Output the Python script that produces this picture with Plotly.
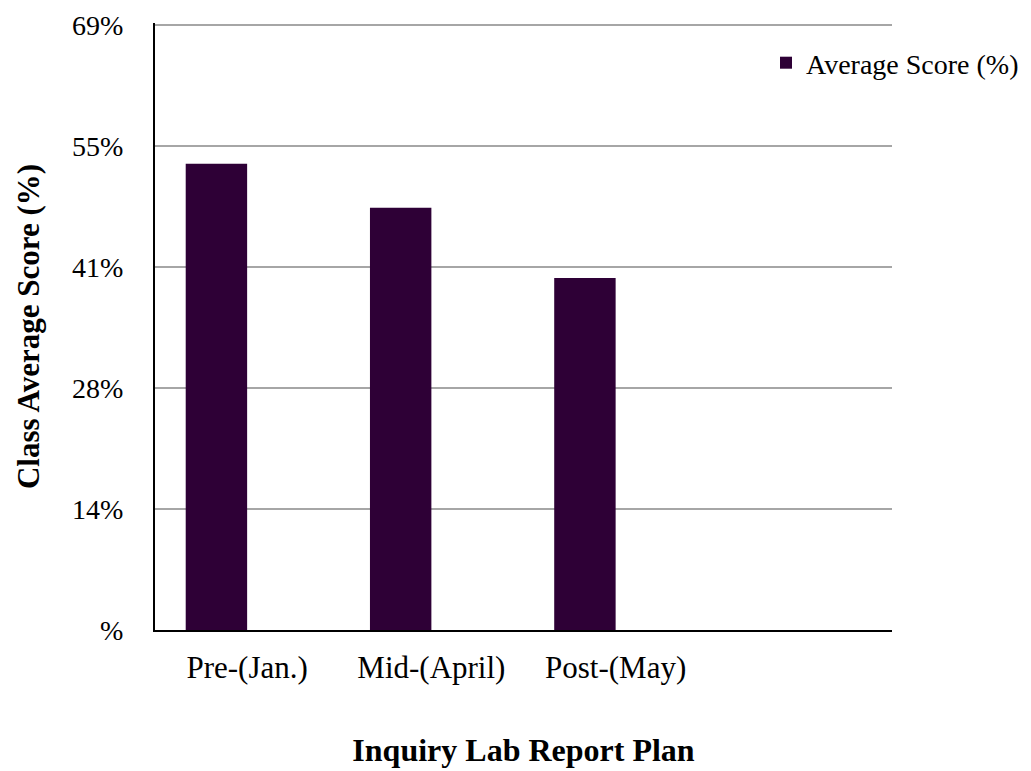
import plotly.graph_objects as go

categories = ["Pre-(Jan.)", "Mid-(April)", "Post-(May)"]
scores = [53.0, 48.0, 40.0]
series_name = "Average Score (%)"
ytick_vals = [0, 13.75, 27.5, 41.25, 55, 68.75]
ytick_text = ["%", "14%", "28%", "41%", "55%", "69%"]

FONT = "Liberation Serif, Times New Roman, serif"
BAR = "#2E0036"

fig = go.Figure()
fig.add_trace(go.Bar(
    x=list(range(len(categories))),
    y=scores,
    name=series_name,
    width=1/3,
    offset=-1/3,
    marker=dict(color=BAR, line=dict(width=0)),
    showlegend=True,
))

W, H = 1023, 763
L, R, T, B = 147, 139, 15, 141
PW = W - L - R
PH = H - T - B
fig.update_layout(
    width=W, height=H,
    margin=dict(l=L, r=R, t=T, b=B, autoexpand=False),
    paper_bgcolor="white", plot_bgcolor="white",
    font=dict(family=FONT, size=29, color="black"),
    showlegend=True,
    legend=dict(
        x=(758 - L) / PW, y=(622 - 30) / PH, xref="paper", yref="paper",
        xanchor="left", yanchor="top",
        font=dict(family=FONT, size=28, color="black"),
        bgcolor="rgba(0,0,0,0)", itemwidth=30,
    ),
    xaxis=dict(
        range=[-0.5, 3.5],
        tickvals=list(range(len(categories))),
        ticktext=categories,
        tickfont=dict(size=31),
        showgrid=False, zeroline=False,
        showline=True, linecolor="black", linewidth=2,
        ticks="", ticklabelstandoff=9, automargin=False,
        ticklabeloverflow="allow",
        title=dict(text="<b>Inquiry Lab Report Plan</b>",
                   font=dict(family=FONT, size=32), standoff=54),
        fixedrange=True,
    ),
    yaxis=dict(
        range=[0, 69.0],
        tickvals=ytick_vals,
        ticktext=ytick_text,
        tickfont=dict(size=28),
        showgrid=True, gridcolor="#A6A6A6", gridwidth=2,
        zeroline=False,
        showline=True, linecolor="black", linewidth=2,
        ticks="", ticklabelstandoff=24, automargin=False,
        ticklabeloverflow="allow",
        title=dict(text="<b>Class Average Score (%)</b>",
                   font=dict(family=FONT, size=31), standoff=23),
    ),
)

fig.write_html("out.html")
